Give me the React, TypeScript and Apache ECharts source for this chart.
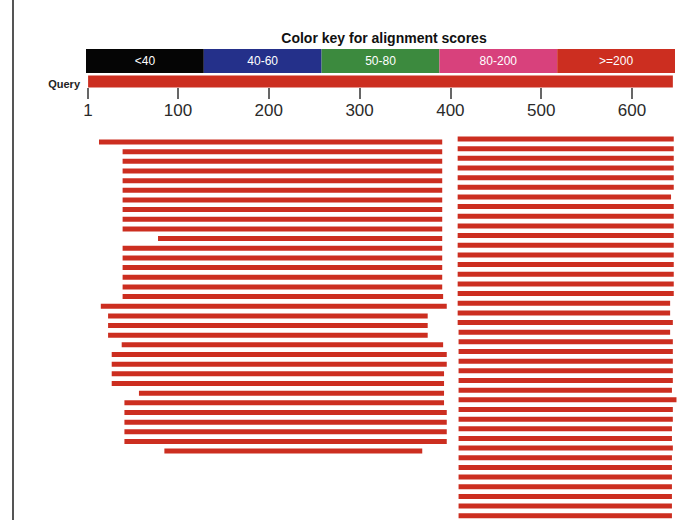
import React, { useEffect, useRef } from "react";
import * as echarts from "echarts";

const queryStart = 1;
const queryLength = 645;
const axisTicks = [1, 100, 200, 300, 400, 500, 600];
const keyTitle = "Color key for alignment scores";
const keyLabels = ["<40", "40-60", "50-80", "80-200", ">=200"];
const keyColors = ["#050505", "#24308a", "#3c8a3e", "#d8417c", "#cc2e20"];

// Left block of hits (one HSP per row), query coordinates
const leftStarts = [
  13, 39, 39, 39, 39, 39, 39, 39, 39, 39, 78, 39, 39, 39, 39, 39, 39, 15, 23,
  23, 23, 38, 27, 27, 27, 27, 57, 41, 41, 41, 41, 41, 85,
];
const leftEnds = [
  391, 391, 391, 391, 391, 391, 391, 391, 391, 391, 391, 391, 391, 391, 391,
  391, 392, 396, 375, 375, 375, 392, 396, 396, 393, 393, 393, 393, 396, 396,
  396, 396, 369,
];

// Right block of hits
const rightStarts = [
  408, 408, 408, 408, 408, 408, 408, 408, 408, 408, 408, 408, 408, 408, 408,
  408, 408, 408, 408, 408, 409, 409, 409, 409, 409, 409, 409, 409, 409, 409,
  409, 409, 409, 409, 409, 409, 409, 409, 409, 409,
];
const rightEnds = [
  646, 646, 646, 646, 646, 646, 643, 646, 646, 646, 646, 646, 646, 646, 646,
  646, 646, 642, 642, 645, 642, 645, 645, 645, 645, 645, 644, 649, 645, 645,
  644, 644, 645, 644, 644, 644, 644, 644, 644, 644,
];

const W = 680;
const H = 520;
const GRID_TOP = 88;
const ROW_PX = 9.66;
const LEFT_ROW0 = (142 - GRID_TOP) / ROW_PX;
const RIGHT_ROW0 = (139 - GRID_TOP) / ROW_PX;
const QUERY_ROW = (81.5 - GRID_TOP) / ROW_PX;
const Y_MAX = (H - GRID_TOP) / ROW_PX;
const X_MIN = 0;
const X_MAX = 650;
const PX_PER_UNIT = 0.908;
const GRID_LEFT = 88.1 - PX_PER_UNIT;
const GRID_RIGHT = W - (GRID_LEFT + (X_MAX - X_MIN) * PX_PER_UNIT);

const HIT_COLOR = "#cc2e20";
const FONT = "Arial, 'Liberation Sans', sans-serif";

function barRenderer(height: number) {
  return (params: any, api: any) => {
    const s = api.value(0);
    const e = api.value(1);
    const r = api.value(2);
    const p0 = api.coord([s, r]);
    const p1 = api.coord([e, r]);
    return {
      type: "rect",
      shape: { x: p0[0], y: p0[1] - height / 2, width: p1[0] - p0[0], height },
      style: { fill: HIT_COLOR },
    };
  };
}

export default function App() {
  const ref = useRef<HTMLDivElement>(null);
  useEffect(() => {
    if (!ref.current) return;
    const chart = echarts.init(ref.current, undefined, { renderer: "svg" });

    const leftData = leftStarts.map((s, i) => [s, leftEnds[i], LEFT_ROW0 + i]);
    const rightData = rightStarts.map((s, i) => [s, rightEnds[i], RIGHT_ROW0 + i]);
    const queryData = [[queryStart, queryLength, QUERY_ROW]];

    const keyX0 = 86;
    const keyX1 = 675;
    const keyW = (keyX1 - keyX0) / keyLabels.length;
    const keyY = 49;
    const keyH = 24;

    const graphics: any[] = [
      {
        type: "line",
        shape: { x1: 13, y1: 0, x2: 13, y2: H },
        style: { stroke: "#555", lineWidth: 2 },
      },
      {
        type: "text",
        x: 384,
        y: 38,
        style: {
          text: keyTitle,
          font: `bold 14px ${FONT}`,
          fill: "#111",
          textAlign: "center",
          textVerticalAlign: "middle",
        },
      },
      {
        type: "text",
        x: 80,
        y: 84,
        style: {
          text: "Query",
          font: `bold 11px ${FONT}`,
          fill: "#222",
          textAlign: "right",
          textVerticalAlign: "middle",
        },
      },
    ];
    keyLabels.forEach((lab, i) => {
      graphics.push({
        type: "rect",
        shape: { x: keyX0 + i * keyW, y: keyY, width: keyW, height: keyH },
        style: { fill: keyColors[i] },
      });
      graphics.push({
        type: "text",
        x: keyX0 + i * keyW + keyW / 2,
        y: keyY + keyH / 2,
        style: {
          text: lab,
          font: `12px ${FONT}`,
          fill: "#ffffff",
          textAlign: "center",
          textVerticalAlign: "middle",
        },
      });
    });

    chart.setOption({
      animation: false,
      backgroundColor: "#ffffff",
      grid: { left: GRID_LEFT, right: GRID_RIGHT, top: GRID_TOP, bottom: 0 },
      xAxis: {
        type: "value",
        position: "top",
        min: X_MIN,
        max: X_MAX,
        axisLine: { show: false },
        splitLine: { show: false },
        axisTick: {
          show: true,
          inside: true,
          length: 11,
          customValues: axisTicks,
          lineStyle: { color: "#333", width: 1.5 },
        },
        axisLabel: {
          show: true,
          inside: true,
          margin: 14,
          customValues: axisTicks,
          color: "#2a2a2a",
          fontSize: 17,
          fontFamily: FONT,
          verticalAlign: "top",
        },
      },
      yAxis: {
        type: "value",
        min: 0,
        max: Y_MAX,
        inverse: true,
        show: false,
      },
      graphic: graphics,
      series: [
        {
          type: "custom",
          name: "Query",
          data: queryData,
          renderItem: barRenderer(12),
          clip: false,
          encode: { x: [0, 1], y: 2 },
        },
        {
          type: "custom",
          name: "Hits A",
          data: leftData,
          renderItem: barRenderer(5),
          encode: { x: [0, 1], y: 2 },
        },
        {
          type: "custom",
          name: "Hits B",
          data: rightData,
          renderItem: barRenderer(5),
          encode: { x: [0, 1], y: 2 },
        },
      ],
    });
    return () => chart.dispose();
  }, []);
  return (
    <div
      ref={ref}
      style={{ position: "absolute", left: 0, top: 0, width: W, height: H, background: "#fff" }}
    />
  );
}
